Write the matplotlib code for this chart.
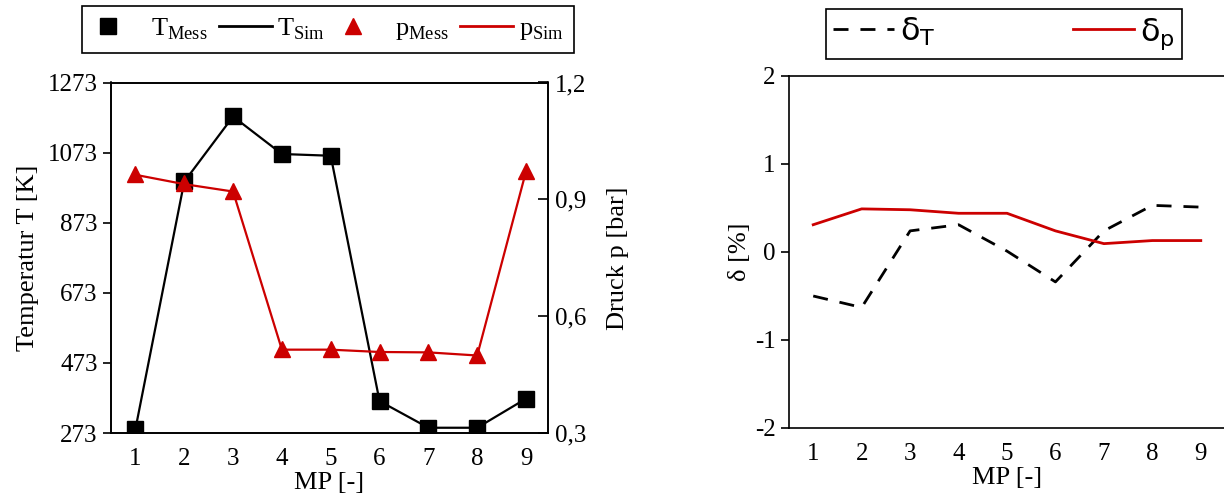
import matplotlib.pyplot as plt
from matplotlib.lines import Line2D
from matplotlib.legend_handler import HandlerLine2D

plt.rcParams['font.family'] = ['Liberation Serif', 'DejaVu Serif']
plt.rcParams['mathtext.fontset'] = 'custom'
plt.rcParams['mathtext.rm'] = 'Liberation Serif'
plt.rcParams['axes.unicode_minus'] = False
plt.rcParams['axes.linewidth'] = 1.2

# data
mp = [1, 2, 3, 4, 5, 6, 7, 8, 9]
t_mess = [284, 993, 1176, 1069, 1064, 364, 288, 288, 371]
t_sim = [284, 990, 1176, 1069, 1064, 364, 288, 288, 371]
p_mess = [0.965, 0.941, 0.922, 0.515, 0.515, 0.509, 0.508, 0.500, 0.974]
p_sim = [0.963, 0.939, 0.920, 0.514, 0.514, 0.508, 0.507, 0.499, 0.972]
delta_t = [-0.50, -0.63, 0.24, 0.31, 0.01, -0.34, 0.24, 0.53, 0.51]
delta_p = [0.31, 0.49, 0.48, 0.44, 0.44, 0.24, 0.095, 0.13, 0.13]

t_ticks = [273, 473, 673, 873, 1073, 1273]
p_ticks = [0.3, 0.6, 0.9, 1.2]
p_tick_labels = ['0,3', '0,6', '0,9', '1,2']
d_ticks = [-2, -1, 0, 1, 2]

red = '#cc0000'


class LeftMarker(HandlerLine2D):
    # put the single legend marker a bit left of the handle centre
    def get_xdata(self, legend, xdescent, ydescent, width, height, fontsize):
        x = [-xdescent + 0.3 * width]
        return x, x


fig = plt.figure(figsize=(12.24, 4.99), dpi=100)

# left panel: temperature + pressure
ax1 = fig.add_axes([111 / 1224, 1 - 433 / 499, 437 / 1224, 350.5 / 499])
ax1.plot(mp, t_sim, color='black', lw=1.6, zorder=2)
ax1.plot(mp, t_mess, ls='none', marker='s', ms=11, color='black', zorder=3)
ax1.set_xlim(0.5, 9.45)
ax1.set_ylim(273, 1273)
ax1.set_yticks(t_ticks)
ax1.set_xticks(mp)
ax1.tick_params(axis='x', length=0, pad=11, labelsize=18)
ax1.tick_params(axis='y', direction='out', length=6, width=1.2, labelsize=18)
ax1.set_xlabel('MP [-]', fontsize=19, labelpad=1)
ax1.set_ylabel('Temperatur T [K]', fontsize=19, labelpad=6)

ax2 = ax1.twinx()
ax2.plot(mp, p_sim, color=red, lw=1.6, zorder=2)
ax2.plot(mp, p_mess, ls='none', marker='^', ms=12, color=red, zorder=3)
ax2.set_ylim(0.3, 1.2)
ax2.set_yticks(p_ticks)
ax2.set_yticklabels(p_tick_labels)
ax2.tick_params(axis='y', direction='in', length=7, width=1.2, labelsize=18, pad=5)
ax2.set_ylabel('Druck p [bar]', fontsize=19, labelpad=15)

mk_t = Line2D([], [], ls='none', marker='s', ms=11, color='black')
mk_p = Line2D([], [], ls='none', marker='^', ms=12, color=red)
h1 = [mk_t, Line2D([], [], color='black', lw=2), mk_p, Line2D([], [], color=red, lw=2)]
l1 = [r'$\mathrm{T}_{\mathrm{Mess}}$', r'$\mathrm{T}_{\mathrm{Sim}}$',
      r'$\mathrm{p}_{\mathrm{Mess}}$', r'$\mathrm{p}_{\mathrm{Sim}}$']
leg1 = fig.legend(h1, l1, loc='lower left', ncol=4, mode='expand',
                  bbox_to_anchor=(82 / 1224, 1 - 53 / 499, 492 / 1224, 46 / 499),
                  fontsize=19, handlelength=2.0, handletextpad=0.2,
                  borderpad=0.4, borderaxespad=0, fancybox=False, framealpha=1,
                  edgecolor='black',
                  handler_map={mk_t: LeftMarker(numpoints=1), mk_p: LeftMarker(numpoints=1)})
leg1.get_frame().set_linewidth(1.2)

# right panel: deviations
ax3 = fig.add_axes([789 / 1224, 1 - 428 / 499, 436 / 1224, 352 / 499])
ax3.plot(mp, delta_t, color='black', lw=2, ls=(0, (5.4, 4.3)))
ax3.plot(mp, delta_p, color=red, lw=2)
ax3.set_xlim(0.5, 9.5)
ax3.set_ylim(-2, 2)
ax3.set_yticks(d_ticks)
ax3.set_xticks(mp)
ax3.tick_params(axis='x', length=0, pad=11, labelsize=18)
ax3.tick_params(axis='y', direction='out', length=6, width=1.2, labelsize=18)
ax3.set_xlabel('MP [-]', fontsize=19, labelpad=1)
ax3.set_ylabel('δ [%]', fontsize=19, labelpad=3)

h2 = [Line2D([], [], color='black', lw=2, ls=(0, (5.4, 4.3))),
      Line2D([], [], color=red, lw=2)]
l2 = [r'$\mathrm{\delta}_\mathrm{T}$', r'$\mathrm{\delta}_\mathrm{p}$']
leg2 = fig.legend(h2, l2, loc='lower left', ncol=2, mode='expand',
                  bbox_to_anchor=(826 / 1224, 1 - 59 / 499, 356 / 1224, 50 / 499),
                  prop={'family': 'DejaVu Sans', 'size': 23, 'math_fontfamily': 'dejavusans'},
                  handlelength=1.9, handletextpad=0.2, borderpad=0.22, borderaxespad=0,
                  fancybox=False, framealpha=1, edgecolor='black')
leg2.get_frame().set_linewidth(1.2)

fig.savefig('out.png', dpi=100)
